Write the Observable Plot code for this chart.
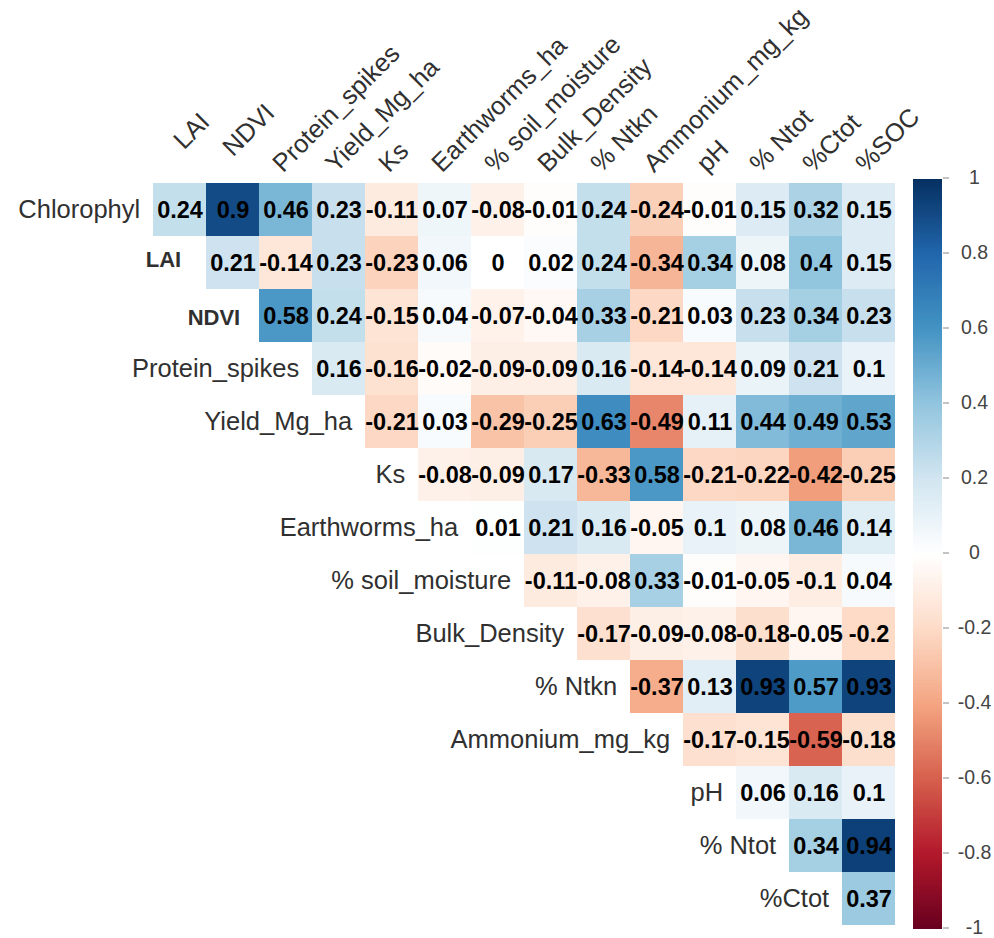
<!DOCTYPE html>
<html>
<head>
<meta charset="utf-8">
<script src="https://cdn.jsdelivr.net/npm/d3@7"></script>
<script src="https://cdn.jsdelivr.net/npm/@observablehq/plot@0.6"></script>
<style>
  html, body { margin: 0; padding: 0; background: #ffffff; }
  #chart { position: relative; width: 994px; height: 938px; overflow: hidden; }
  #chart svg { position: absolute; left: 0; top: 0; }
</style>
</head>
<body>
<div id="chart"></div>
<script>
// Variables along the top of the upper-triangle correlation matrix
const columns = ["LAI", "NDVI", "Protein_spikes", "Yield_Mg_ha", "Ks", "Earthworms_ha",
  "% soil_moisture", "Bulk_Density", "% Ntkn", "Ammonium_mg_kg", "pH", "% Ntot", "%Ctot", "%SOC"];
// Variables down the side
const rowNames = ["Chlorophyl", "LAI", "NDVI", "Protein_spikes", "Yield_Mg_ha", "Ks", "Earthworms_ha",
  "% soil_moisture", "Bulk_Density", "% Ntkn", "Ammonium_mg_kg", "pH", "% Ntot", "%Ctot"];

// Correlation coefficients, one row each, starting at the first column right of the diagonal
const rChlorophyl   = [0.24, 0.9, 0.46, 0.23, -0.11, 0.07, -0.08, -0.01, 0.24, -0.24, -0.01, 0.15, 0.32, 0.15];
const rLAI          = [0.21, -0.14, 0.23, -0.23, 0.06, 0, 0.02, 0.24, -0.34, 0.34, 0.08, 0.4, 0.15];
const rNDVI         = [0.58, 0.24, -0.15, 0.04, -0.07, -0.04, 0.33, -0.21, 0.03, 0.23, 0.34, 0.23];
const rProtein      = [0.16, -0.16, -0.02, -0.09, -0.09, 0.16, -0.14, -0.14, 0.09, 0.21, 0.1];
const rYield        = [-0.21, 0.03, -0.29, -0.25, 0.63, -0.49, 0.11, 0.44, 0.49, 0.53];
const rKs           = [-0.08, -0.09, 0.17, -0.33, 0.58, -0.21, -0.22, -0.42, -0.25];
const rEarthworms   = [0.01, 0.21, 0.16, -0.05, 0.1, 0.08, 0.46, 0.14];
const rSoilMoisture = [-0.11, -0.08, 0.33, -0.01, -0.05, -0.1, 0.04];
const rBulkDensity  = [-0.17, -0.09, -0.08, -0.18, -0.05, -0.2];
const rNtkn         = [-0.37, 0.13, 0.93, 0.57, 0.93];
const rAmmonium     = [-0.17, -0.15, -0.59, -0.18];
const rPH           = [0.06, 0.16, 0.1];
const rNtot         = [0.34, 0.94];
const rCtot         = [0.37];

// Colour bar ticks
const legendTicks = [-1, -0.8, -0.6, -0.4, -0.2, 0, 0.2, 0.4, 0.6, 0.8, 1];

// RdBu diverging palette (dark red = -1, white = 0, dark blue = +1)
const palette = ["#67001F", "#B2182B", "#D6604D", "#F4A582", "#FDDBC7", "#FFFFFF",
  "#D1E5F0", "#92C5DE", "#4393C3", "#2166AC", "#053061"];

const rowValues = [rChlorophyl, rLAI, rNDVI, rProtein, rYield, rKs, rEarthworms,
  rSoilMoisture, rBulkDensity, rNtkn, rAmmonium, rPH, rNtot, rCtot];

const cells = rowValues.flatMap((vals, i) =>
  vals.map((v, k) => ({row: rowNames[i], col: columns[i + k], value: v})));

const rowLabels = rowNames.map((name, i) => ({name, col: columns[i]}));

const W = 994, H = 938;
const FONT = "'Liberation Sans', Arial, Helvetica, sans-serif";
const colorScale = {type: "linear", domain: legendTicks, range: palette, interpolate: "rgb"};

const gridLeft = 149, gridRight = 899, gridTop = 178, gridBottom = 929;
const band = (gridRight - gridLeft) / columns.length;
const labelSize = 25.5;

// Labels drawn heavier and nudged
const boldRows = new Set(["LAI", "NDVI"]);
const rowNudge = {LAI: [-25, -3], NDVI: [-19, 2]};
const colNudge = {LAI: [7, -23], NDVI: [3, -16]};

const labelColor = "#303030";

const colLabelMarks = [
  Plot.text(columns.filter(c => !colNudge[c]), {
    x: d => d, frameAnchor: "top", text: d => d,
    rotate: -45, textAnchor: "start", lineAnchor: "bottom",
    dx: -3, dy: -5, fontSize: labelSize, fill: labelColor
  }),
  ...Object.entries(colNudge).map(([name, [nx, ny]]) =>
    Plot.text([name], {
      x: d => d, frameAnchor: "top", text: d => d,
      rotate: -45, textAnchor: "start", lineAnchor: "bottom",
      dx: -3 + nx, dy: -5 + ny, fontSize: labelSize, fill: labelColor
    }))
];

const rowLabelMarks = [
  Plot.text(rowLabels.filter(d => !boldRows.has(d.name)), {
    x: "col", y: "name", text: "name", textAnchor: "end",
    dx: -(band / 2 + 13), fontSize: labelSize, fill: labelColor
  }),
  ...rowLabels.filter(d => boldRows.has(d.name)).map(d =>
    Plot.text([d], {
      x: "col", y: "name", text: "name", textAnchor: "end",
      dx: -(band / 2) + rowNudge[d.name][0], dy: rowNudge[d.name][1],
      fontSize: 22, fontWeight: "bold", fill: labelColor
    }))
];

const matrix = Plot.plot({
  width: W, height: H,
  marginLeft: gridLeft, marginRight: W - gridRight,
  marginTop: gridTop, marginBottom: H - gridBottom,
  style: {fontFamily: FONT, background: "#ffffff"},
  x: {type: "band", domain: columns, padding: 0, axis: null},
  y: {type: "band", domain: rowNames, padding: 0, axis: null},
  color: colorScale,
  marks: [
    Plot.cell(cells, {x: "col", y: "row", fill: "value", inset: 0, shapeRendering: "crispEdges"}),
    Plot.text(cells, {x: "col", y: "row", text: d => String(d.value),
      fontSize: 23.5, fontWeight: "bold", fill: "#000000"}),
    ...rowLabelMarks,
    ...colLabelMarks
  ]
});

// Colour bar on the right, sharing the same palette
const step = 0.005;
const stops = d3.range(-1, 1 - step / 2, step);

const colorbar = Plot.plot({
  width: W, height: H,
  marginLeft: 913, marginRight: W - 942,
  marginTop: 179, marginBottom: H - 929,
  style: {fontFamily: FONT, background: "transparent", overflow: "visible"},
  y: {domain: [-1, 1], axis: null},
  color: colorScale,
  marks: [
    Plot.rect(stops, {y1: d => d, y2: d => Math.min(1, d + step * 1.6), fill: d => d + step / 2,
      shapeRendering: "crispEdges"}),
    Plot.axisY({anchor: "right", ticks: legendTicks, tickFormat: d => String(d),
      tickSize: 6, tickPadding: 26, textAnchor: "middle", dy: -1.5,
      fontSize: 19.5, fill: "#444444", stroke: "#888888"})
  ]
});
colorbar.style.pointerEvents = "none";

const host = document.getElementById("chart");
host.appendChild(matrix);
host.appendChild(colorbar);
</script>
</body>
</html>
